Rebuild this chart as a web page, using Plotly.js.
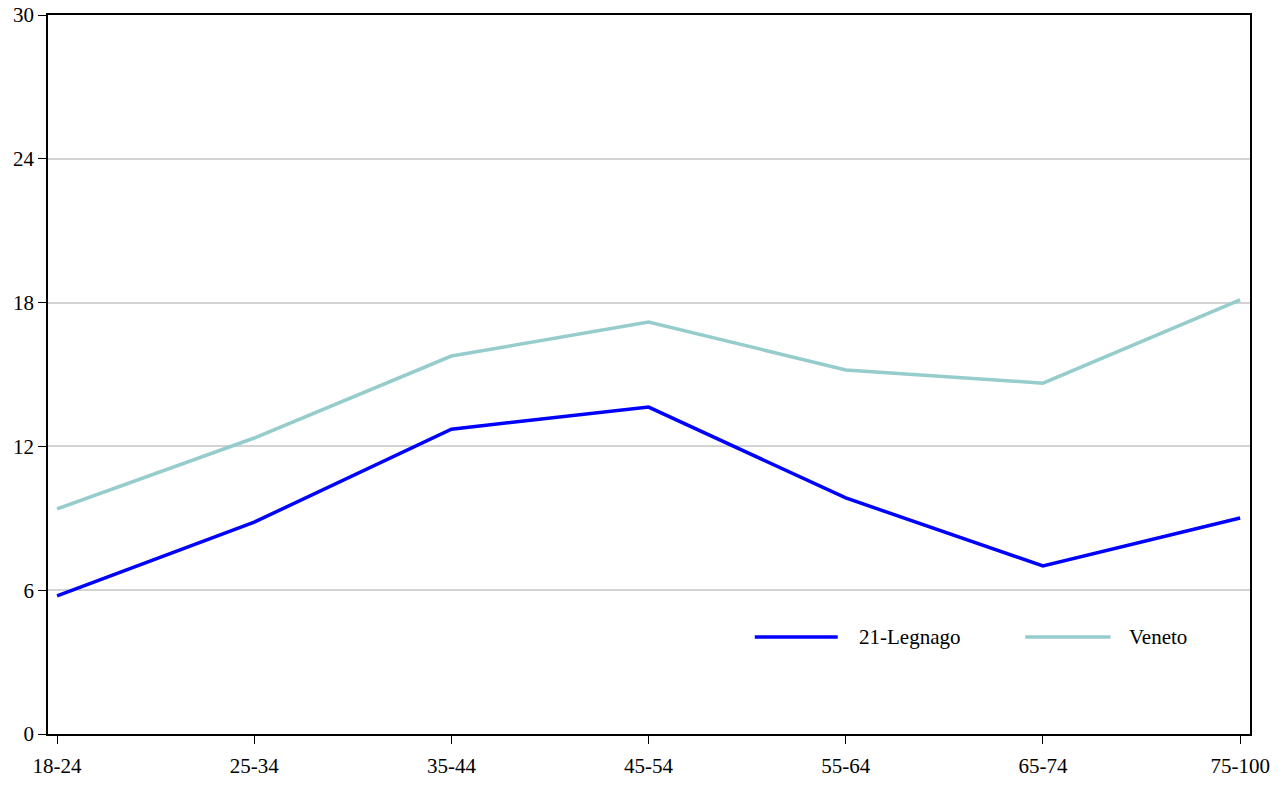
<!DOCTYPE html>
<html>
<head>
<meta charset="utf-8">
<script src="https://cdn.plot.ly/plotly-3.0.1.min.js"></script>
<style>html,body{margin:0;padding:0;background:#fff}#chart{width:1288px;height:787px}</style>
</head>
<body>
<div id="chart"></div>
<script>
const categories = ["18-24", "25-34", "35-44", "45-54", "55-64", "65-74", "75-100"];
const legnago = [5.76, 8.84, 12.72, 13.64, 9.85, 7.01, 9.01];
const veneto = [9.39, 12.35, 15.77, 17.19, 15.19, 14.64, 18.11];
const seriesNames = ["21-Legnago", "Veneto"];
const seriesColors = ["#0000ff", "#96cccc"];

const FONT = "Liberation Serif, Times New Roman, serif";

const traces = [legnago, veneto].map((vals, i) => ({
    x: categories, y: vals, name: seriesNames[i],
    type: "scatter", mode: "lines",
    line: { color: seriesColors[i], width: 3.5 },
    showlegend: false
}));

// hand-drawn legend (long swatches as in the original)
const legX = [[0.588, 0.657, 0.673], [0.813, 0.884, 0.898]];
const legY = 0.135;
const shapes = legX.map((p, i) => ({
    type: "line", xref: "paper", yref: "paper",
    x0: p[0], x1: p[1], y0: legY, y1: legY,
    line: { color: seriesColors[i], width: 3.5 }
}));
const annotations = legX.map((p, i) => ({
    xref: "paper", yref: "paper", x: p[2], y: legY,
    xanchor: "left", yanchor: "middle", showarrow: false,
    text: seriesNames[i], font: { family: FONT, size: 21, color: "#000" }
}));

const layout = {
    width: 1288, height: 787,
    margin: { l: 48, r: 38, t: 15, b: 53 },
    paper_bgcolor: "#fff", plot_bgcolor: "#fff",
    font: { family: FONT, size: 21, color: "#000" },
    xaxis: {
        type: "category", range: [-0.046, 6.05],
        showgrid: false, ticks: "outside", ticklen: 8, tickcolor: "#000",
        ticklabelstandoff: 4,
        showline: true, linecolor: "#000", linewidth: 1.5, mirror: true
    },
    yaxis: {
        range: [0, 30], tickvals: [0, 6, 12, 18, 24, 30],
        showgrid: true, gridcolor: "#d3d3d3", gridwidth: 1.5,
        ticks: "outside", ticklen: 8, tickcolor: "#000",
        showline: true, linecolor: "#000", linewidth: 1.5, mirror: true,
        zeroline: false
    },
    shapes: shapes,
    annotations: annotations,
    showlegend: false
};

Plotly.newPlot("chart", traces, layout, { displayModeBar: false });
</script>
</body>
</html>
